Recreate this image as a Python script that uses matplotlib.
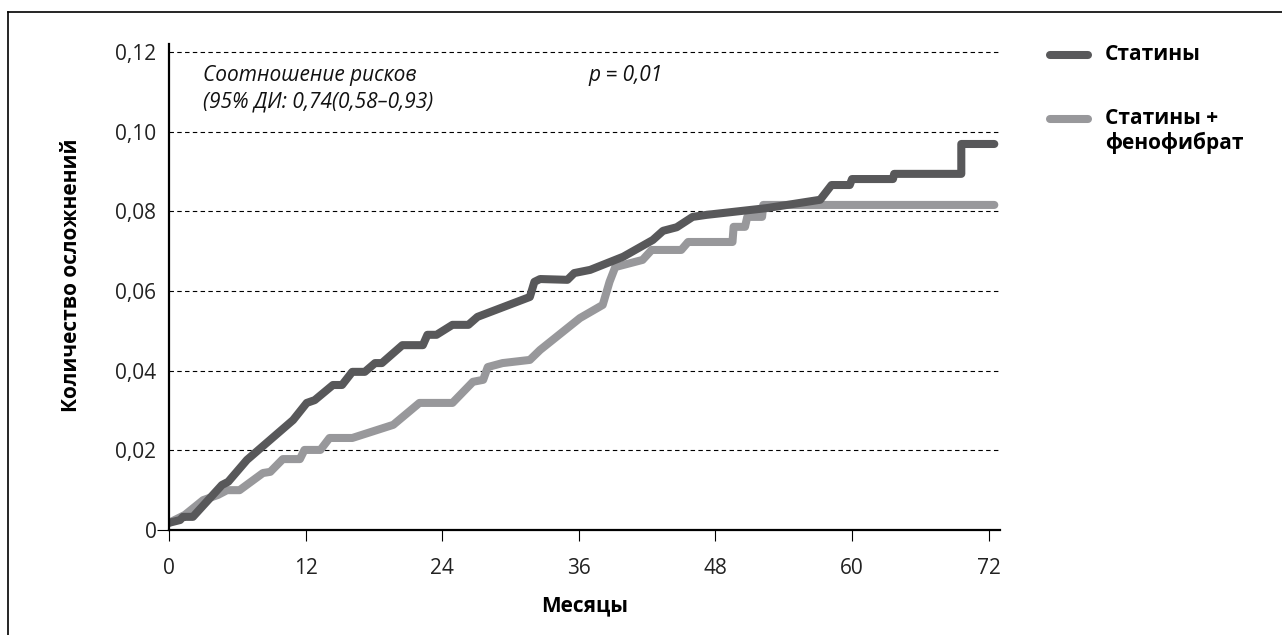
"""
Cumulative complications: statins vs statins + fenofibrate.
"""

import matplotlib
matplotlib.use('Agg')
import matplotlib.pyplot as plt
from matplotlib.lines import Line2D
from matplotlib.ticker import FuncFormatter

plt.rcParams['font.family'] = ['Open Sans', 'Noto Sans', 'DejaVu Sans']

# data
months_st = [0, 0.97, 1.23, 2.1, 4.65, 5.2, 6.85, 10.9, 12.1, 12.8, 14.4, 15.2,
             16.1, 17.2, 18.1, 18.7, 20.5, 22.3, 22.7, 23.5, 24.9, 26.3, 27.1,
             31.7, 32.1, 32.6, 35.0, 35.6, 37.0, 39.9, 42.5, 43.4, 44.6, 46.0,
             47.2, 52.5, 57.2, 58.2, 59.8, 60.0, 63.6, 63.7, 69.6, 69.6, 72.5]
rate_st = [0.0018, 0.0025, 0.0033, 0.0033, 0.0113, 0.0121, 0.0176, 0.0276,
           0.0319, 0.0326, 0.0364, 0.0364, 0.0397, 0.0397, 0.0419, 0.0419,
           0.0464, 0.0464, 0.0490, 0.0490, 0.0515, 0.0515, 0.0535, 0.0585,
           0.0623, 0.0630, 0.0628, 0.0645, 0.0653, 0.0686, 0.0728, 0.0751,
           0.0760, 0.0786, 0.0791, 0.0808, 0.0829, 0.0866, 0.0866, 0.0881,
           0.0881, 0.0894, 0.0894, 0.0969, 0.0969]

months_fen = [0, 1.4, 3.0, 4.3, 5.1, 6.2, 8.25, 8.9, 10.0, 11.5, 11.9, 13.3,
              14.1, 16.1, 19.7, 22.0, 24.9, 26.7, 27.6, 28.0, 29.3, 31.7, 32.6,
              36.1, 38.1, 38.7, 39.2, 41.6, 42.4, 45.0, 45.6, 49.5, 49.6, 50.6,
              50.8, 52.1, 52.2, 72.5]
rate_fen = [0.0018, 0.0038, 0.0075, 0.0088, 0.0100, 0.0100, 0.0143, 0.0146,
            0.0178, 0.0178, 0.0201, 0.0201, 0.0231, 0.0231, 0.0264, 0.0319,
            0.0319, 0.0372, 0.0377, 0.0409, 0.0419, 0.0427, 0.0452, 0.0532,
            0.0565, 0.0623, 0.0660, 0.0678, 0.0703, 0.0703, 0.0723, 0.0723,
            0.0761, 0.0761, 0.0786, 0.0786, 0.0816, 0.0816]

x_ticks = [0, 12, 24, 36, 48, 60, 72]
y_ticks = [0, 0.02, 0.04, 0.06, 0.08, 0.10, 0.12]

dark = '#58585a'
light = '#98989b'
fs = 15

fig = plt.figure(figsize=(12.82, 6.35), dpi=100)
ax = fig.add_axes([169 / 1282, 1 - 530 / 635, (1000 - 169) / 1282, (530 - 44) / 635])

for y in y_ticks[1:]:
    ax.axhline(y, color='black', lw=0.8, ls=(0, (4, 3)), zorder=1)

ax.plot(months_st, rate_st, color=dark, lw=5.8, solid_capstyle='round',
        solid_joinstyle='round', zorder=3)
ax.plot(months_fen, rate_fen, color=light, lw=5.8, solid_capstyle='round',
        solid_joinstyle='round', zorder=2)

ax.set_xlim(0, 73)
ax.set_ylim(0, 0.122)
ax.set_xticks(x_ticks)
ax.set_yticks(y_ticks)
ax.yaxis.set_major_formatter(FuncFormatter(
    lambda v, p: '0' if v == 0 else ('%.2f' % v).replace('.', ',')))
ax.tick_params(axis='x', direction='out', length=8, width=0.8, pad=12,
               labelsize=fs)
ax.tick_params(axis='y', length=9, width=0.8, pad=0, labelsize=fs)
for t in ax.yaxis.get_major_ticks()[1:]:
    t.tick1line.set_visible(False)
for lab in ax.get_xticklabels() + ax.get_yticklabels():
    lab.set_color('#222222')

ax.spines['top'].set_visible(False)
ax.spines['right'].set_visible(False)
ax.spines['left'].set_linewidth(1.6)
ax.spines['bottom'].set_linewidth(1.6)
ax.spines['left'].set_zorder(4)
ax.spines['bottom'].set_zorder(4)

ax.set_xlabel('Месяцы', fontsize=fs, fontweight='bold', va='center')
ax.xaxis.set_label_coords(0.5, (530 - 606) / 486)
ax.set_ylabel('Количество осложнений', fontsize=fs, fontweight='bold',
              va='center')
ax.yaxis.set_label_coords((72 - 169) / 831, (530 - 275) / 486)

ax.text(203 / 1282, 1 - 75 / 635, 'Соотношение рисков',
        transform=fig.transFigure, fontsize=fs, style='italic', va='center',
        ha='left', color='#111111')
ax.text(203 / 1282, 1 - 102 / 635, '(95% ДИ: 0,74(0,58–0,93)',
        transform=fig.transFigure, fontsize=fs, style='italic', va='center',
        ha='left', color='#111111')
ax.text(588 / 1282, 1 - 75 / 635, 'p = 0,01', transform=fig.transFigure,
        fontsize=fs, style='italic', va='center', ha='left', color='#111111')

# legend drawn in figure coords
for yy, col in [(55, dark), (119, light)]:
    fig.add_artist(Line2D([1050 / 1282, 1088 / 1282], [1 - yy / 635, 1 - yy / 635],
                          color=col, lw=5.8, solid_capstyle='round'))
fig.text(1105 / 1282, 1 - 55 / 635, 'Статины', fontsize=fs, fontweight='bold',
         va='center', ha='left')
fig.text(1105 / 1282, 1 - 119 / 635, 'Статины +', fontsize=fs,
         fontweight='bold', va='center', ha='left')
fig.text(1105 / 1282, 1 - 143 / 635, 'фенофибрат', fontsize=fs,
         fontweight='bold', va='center', ha='left')

# frame around the figure (left and top edges)
fig.add_artist(Line2D([8 / 1282, 8 / 1282], [0, 1 - 12 / 635], color='black', lw=1.2))
fig.add_artist(Line2D([8 / 1282, 1], [1 - 12 / 635, 1 - 12 / 635], color='black', lw=1.2))

fig.savefig('out.png', dpi=100)
